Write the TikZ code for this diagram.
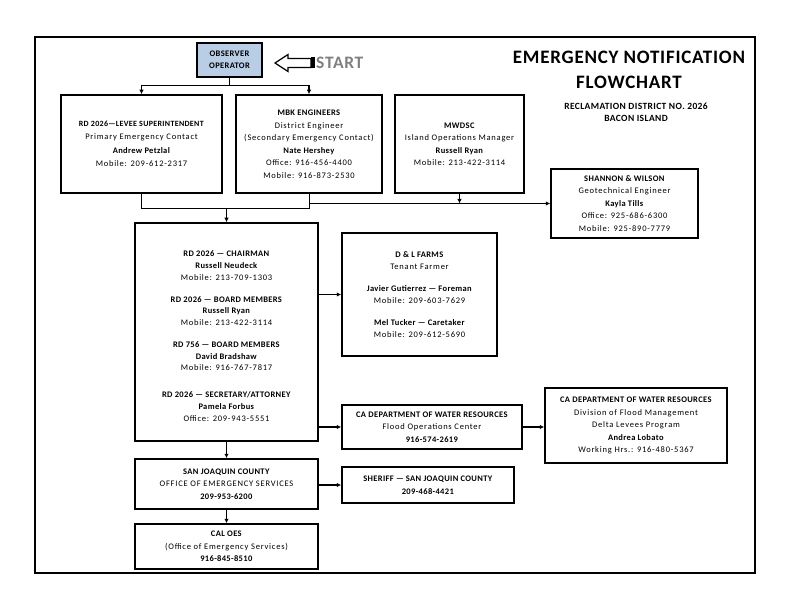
\documentclass[tikz,border=0pt]{standalone}
\usepackage{fontspec}
\setmainfont{Carlito}[UprightFeatures={LetterSpace=9}, BoldFeatures={LetterSpace=4}]
\usepackage{xcolor}
\usepackage{tikz}
\usetikzlibrary{calc, arrows.meta, positioning}
\tikzset{
    boxnode/.style = {draw, rectangle, line width=1.5pt, inner sep = 0pt, node distance=0pt,
      align=center, font=\fontsize{8.5}{12.5}\selectfont},
    textnode/.style  = {draw=none, fill=none, rectangle, inner sep = 0pt, node distance=0pt, align=center},
    connect/.style = {black, line width=1.2pt, -{Latex[length=4.5pt, width=4.5pt]}},
    plainline/.style = {black, line width=1pt},
    every text node part/.style={align=center}
}
\definecolor{obsblue}{RGB}{185, 205, 229}
\definecolor{startgray}{RGB}{128, 128, 128}

\begin{document}
\begin{tikzpicture}
    \useasboundingbox (0,0) rectangle (792pt,-612pt);
    \draw [line width=2pt] (35pt,-37pt) rectangle (755pt,-573pt);

    % start of the chain
    \node [name = obs, boxnode, fill=obsblue, line width=1.2pt, minimum width=65pt, minimum height=34pt,
        font=\fontsize{8.5}{12}\selectfont\bfseries] at (229.5pt,-60pt) {OBSERVER\\OPERATOR};
    \coordinate (starttip) at (275pt,-63pt);
    \draw [line width=1.2pt, fill=white] (starttip) -- ++(13pt,8.5pt) -- ++(0,-4pt) -- ++(23pt,0)
        -- ++(0,-9pt) -- ++(-23pt,0) -- ++(0,-4pt) -- cycle;
    \fill (311pt,-57pt) rectangle (315pt,-68pt);
    \node [name = start, textnode, anchor=west, text=startgray, font=\fontsize{17.5}{18}\selectfont\bfseries]
        at (316pt,-63pt) {START};

    \node [name = title, textnode, font=\fontsize{19}{25}\selectfont\bfseries] at (629pt,-69.5pt)
        {EMERGENCY NOTIFICATION\\FLOWCHART};
    \node [name = district, textnode, font=\fontsize{9.5}{12}\selectfont\bfseries] at (636pt,-112pt)
        {RECLAMATION DISTRICT NO. 2026\\BACON ISLAND};

    % first row
    \node [name = levee, boxnode, below of = obs, xshift=-88pt, yshift=-84pt, minimum width=161pt, minimum height=98pt]
        {{\fontsize{8}{12.5}\selectfont\textbf{RD 2026—LEVEE SUPERINTENDENT}}\\[1pt]Primary Emergency Contact\\[1pt]
         \textbf{Andrew Petzlal}\\[1pt]Mobile:  209-612-2317};
    \node [name = mbk, boxnode, below of = obs, xshift=79.5pt, yshift=-84pt, minimum width=146pt, minimum height=98pt]
        {\textbf{MBK ENGINEERS}\\District Engineer\\(Secondary Emergency Contact)\\\textbf{Nate Hershey}\\Office: 916-456-4400\\Mobile: 916-873-2530};
    \node [name = mwd, boxnode, right of = mbk, xshift=150.5pt, minimum width=129pt, minimum height=98pt]
        {\textbf{MWDSC}\\Island Operations Manager\\\textbf{Russell Ryan}\\Mobile: 213-422-3114};
    \node [name = shannon, boxnode, right of = mwd, xshift=165pt, yshift=-59.5pt, minimum width=147pt, minimum height=69pt]
        {\textbf{SHANNON \& WILSON}\\Geotechnical Engineer\\\textbf{Kayla Tills}\\Office: 925-686-6300\\Mobile: 925-890-7779};

    % district board
    \node [name = board, boxnode, below of = obs, xshift=-3pt, yshift=-272pt, minimum width=183pt, minimum height=218pt,
        font=\fontsize{8.5}{11.7}\selectfont]
        {\mbox{}\\[2.3pt]
         \textbf{RD 2026 — CHAIRMAN}\\\textbf{Russell Neudeck}\\Mobile: 213-709-1303\\[10.3pt]
         \textbf{RD 2026 — BOARD MEMBERS}\\\textbf{Russell Ryan}\\Mobile: 213-422-3114\\[10.3pt]
         \textbf{RD 756 — BOARD MEMBERS}\\\textbf{David Bradshaw}\\Mobile: 916-767-7817\\[15.3pt]
         \textbf{RD 2026 — SECRETARY/ATTORNEY}\\\textbf{Pamela Forbus}\\Office: 209-943-5551};
    \node [name = farms, boxnode, right of = board, xshift=193pt, yshift=37.5pt, minimum width=155pt, minimum height=123pt]
        {\textbf{D \& L FARMS}\\Tenant Farmer\\[9pt]
         \textbf{Javier Gutierrez — Foreman}\\Mobile: 209-603-7629\\[9pt]
         \textbf{Mel Tucker — Caretaker}\\Mobile: 209-612-5690};
    \node [name = flood, boxnode, right of = board, xshift=205.5pt, yshift=-95pt, minimum width=180pt, minimum height=44pt]
        {\textbf{CA DEPARTMENT OF WATER RESOURCES}\\Flood Operations Center\\\textbf{916-574-2619}};
    \node [name = delta, boxnode, right of = flood, xshift=204pt, yshift=1.5pt, minimum width=182pt, minimum height=75pt]
        {\textbf{CA DEPARTMENT OF WATER RESOURCES}\\Division of Flood Management\\Delta Levees Program\\\textbf{Andrea Lobato}\\Working Hrs.: 916-480-5367};

    % county
    \node [name = sjc, boxnode, below of = board, yshift=-152pt, minimum width=183pt, minimum height=50pt]
        {\textbf{SAN JOAQUIN COUNTY}\\OFFICE OF EMERGENCY SERVICES\\\textbf{209-953-6200}};
    \node [name = sheriff, boxnode, right of = sjc, xshift=201.5pt, yshift=-1pt, minimum width=172pt, minimum height=36pt]
        {\textbf{SHERIFF — SAN JOAQUIN COUNTY}\\\textbf{209-468-4421}};
    \node [name = caloes, boxnode, below of = sjc, yshift=-62.5pt, minimum width=183pt, minimum height=45pt]
        {\textbf{CAL OES}\\(Office of Emergency Services)\\\textbf{916-845-8510}};

    \coordinate (split) at ($(obs.south)+(0,-8pt)$);
    \coordinate (merge) at ($(levee.south)+(0,-15pt)$);
    \draw [plainline] (obs.south) -- (split);
    \draw [connect] (split) -| (levee.north);
    \draw [connect] (split) -| (mbk.north);
    \draw [plainline] (levee.south) -- (merge) -| (mbk.south);
    \draw [connect] (board.north |- merge) -- (board.north);
    \draw [connect] (mbk.south |- shannon.west) -- (shannon.west);
    \draw [connect] (mwd.south) -- (mwd.south |- shannon.west);
    \draw [connect] (board.east |- farms.west) -- (farms.west);
    \draw [connect] (board.east |- flood.west) -- (flood.west);
    \draw [connect] (flood.east) -- (flood.east -| delta.west);
    \draw [connect] (board.south) -- (sjc.north);
    \draw [connect] (sjc.east |- sheriff.west) -- (sheriff.west);
    \draw [connect] (sjc.south) -- (caloes.north);
\end{tikzpicture}
\end{document}
